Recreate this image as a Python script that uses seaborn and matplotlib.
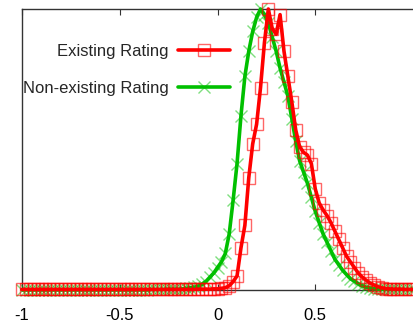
import numpy as np
import pandas as pd
import matplotlib
matplotlib.use("Agg")
import matplotlib.pyplot as plt
import seaborn as sns
from matplotlib.lines import Line2D

sns.set_style("white")
plt.rcParams['font.family'] = ['Liberation Sans', 'DejaVu Sans']
plt.rcParams['axes.unicode_minus'] = False

# x grid: -1.00 .. 1.00 step 0.02 (101 points)
x_vals = [round(-1 + 0.02 * i, 2) for i in range(101)]

# Existing Rating (red)
existing = [
    0.002, 0.002, 0.002, 0.002, 0.002, 0.002, 0.002, 0.002, 0.002, 0.002,   # -1.00 .. -0.82
    0.002, 0.002, 0.002, 0.002, 0.002, 0.002, 0.002, 0.002, 0.002, 0.002,   # -0.80 .. -0.62
    0.002, 0.002, 0.002, 0.002, 0.002, 0.002, 0.002, 0.002, 0.002, 0.002,   # -0.60 .. -0.42
    0.002, 0.002, 0.002, 0.002, 0.002, 0.002, 0.002, 0.002, 0.002, 0.002,   # -0.40 .. -0.22
    0.002, 0.002, 0.002, 0.002, 0.002, 0.003, 0.003, 0.003, 0.003, 0.004,   # -0.20 .. -0.02
    0.004, 0.006, 0.008, 0.015, 0.03, 0.05, 0.15, 0.23, 0.40, 0.52,         # 0.00 .. 0.18
    0.59, 0.72, 0.88, 1.00, 0.93, 0.91, 0.98, 0.85, 0.76, 0.67,            # 0.20 .. 0.38
    0.57, 0.51, 0.49, 0.48, 0.45, 0.36, 0.31, 0.285, 0.265, 0.24,          # 0.40 .. 0.58
    0.21, 0.18, 0.15, 0.12, 0.10, 0.08, 0.06, 0.046, 0.035, 0.025,         # 0.60 .. 0.78
    0.018, 0.012, 0.008, 0.005, 0.004, 0.003, 0.003, 0.003, 0.002, 0.002,  # 0.80 .. 0.98
    0.002,                                                                 # 1.00
]

# Non-existing Rating (green)
non_existing = [
    0.001, 0.001, 0.001, 0.001, 0.001, 0.001, 0.001, 0.001, 0.001, 0.001,  # -1.00 .. -0.82
    0.001, 0.001, 0.001, 0.001, 0.001, 0.001, 0.001, 0.001, 0.001, 0.001,  # -0.80 .. -0.62
    0.001, 0.001, 0.001, 0.001, 0.001, 0.001, 0.001, 0.001, 0.001, 0.001,  # -0.60 .. -0.42
    0.001, 0.001, 0.001, 0.002, 0.002, 0.002, 0.002, 0.003, 0.003, 0.003,  # -0.40 .. -0.22
    0.003, 0.004, 0.006, 0.008, 0.010, 0.013, 0.02, 0.03, 0.045, 0.06,     # -0.20 .. -0.02
    0.08, 0.10, 0.13, 0.20, 0.32, 0.45, 0.62, 0.76, 0.85, 0.92,            # 0.00 .. 0.18
    0.97, 1.00, 0.98, 0.95, 0.90, 0.85, 0.79, 0.74, 0.69, 0.61,            # 0.20 .. 0.38
    0.53, 0.46, 0.42, 0.38, 0.33, 0.28, 0.24, 0.20, 0.17, 0.14,            # 0.40 .. 0.58
    0.11, 0.09, 0.07, 0.055, 0.04, 0.032, 0.022, 0.015, 0.010, 0.007,      # 0.60 .. 0.78
    0.005, 0.003, 0.002, 0.002, 0.002, 0.002, 0.002, 0.002, 0.002, 0.002,  # 0.80 .. 0.98
    0.002,                                                                 # 1.00
]

series_names = ["Existing Rating", "Non-existing Rating"]
tick_vals = [-1, -0.5, 0, 0.5]
tick_labels = ["-1", "-0.5", "0", "0.5"]

RED = "#ff0000"
GREEN = "#00c000"

fig = plt.figure(figsize=(4.13, 3.22), dpi=100)
ax = fig.add_axes([22 / 413, 32 / 322, 1 - 22 / 413, (290 - 9) / 322])

sns.lineplot(x=x_vals, y=non_existing, ax=ax, color=GREEN, linewidth=2.6,
             marker="x", markersize=9, markeredgewidth=1.0,
             markeredgecolor=(0.0, 0.75, 0.0, 0.5), clip_on=False, zorder=3)
sns.lineplot(x=x_vals, y=existing, ax=ax, color=RED, linewidth=2.6,
             marker="s", markersize=9, markeredgewidth=1.0,
             markerfacecolor="none", markeredgecolor=(1.0, 0.0, 0.0, 0.6),
             clip_on=False, zorder=4)

ax.set_xlim(-1, 1)
ax.set_ylim(0, 1.0)
ax.set_xticks(tick_vals)
ax.set_xticklabels(tick_labels)
ax.set_yticks([])
ax.tick_params(axis="x", direction="in", length=4, width=0.8, top=True,
               bottom=True, labelsize=12, pad=13, colors="#333333",
               labelcolor="black")
for s in ["left", "top", "bottom"]:
    ax.spines[s].set_color("#333333")
    ax.spines[s].set_linewidth(1.0)
ax.spines["right"].set_visible(False)

handles = [
    Line2D([], [], color=RED, linewidth=2.6, marker="s", markersize=9,
           markerfacecolor="none", markeredgewidth=1.0,
           markeredgecolor=(1.0, 0.0, 0.0, 0.6)),
    Line2D([], [], color=GREEN, linewidth=2.6, marker="x", markersize=9,
           markeredgewidth=1.0, markeredgecolor=(0.0, 0.75, 0.0, 0.5)),
]
leg = ax.legend(handles, series_names, loc="upper right",
                bbox_to_anchor=(230 / 413, 1 - 44 / 322),
                bbox_transform=fig.transFigure, frameon=False,
                markerfirst=False, handlelength=3.1, handletextpad=0.6,
                labelspacing=1.3, borderpad=0, borderaxespad=0,
                numpoints=1, fontsize=12)

fig.savefig("out.png", dpi=100)
